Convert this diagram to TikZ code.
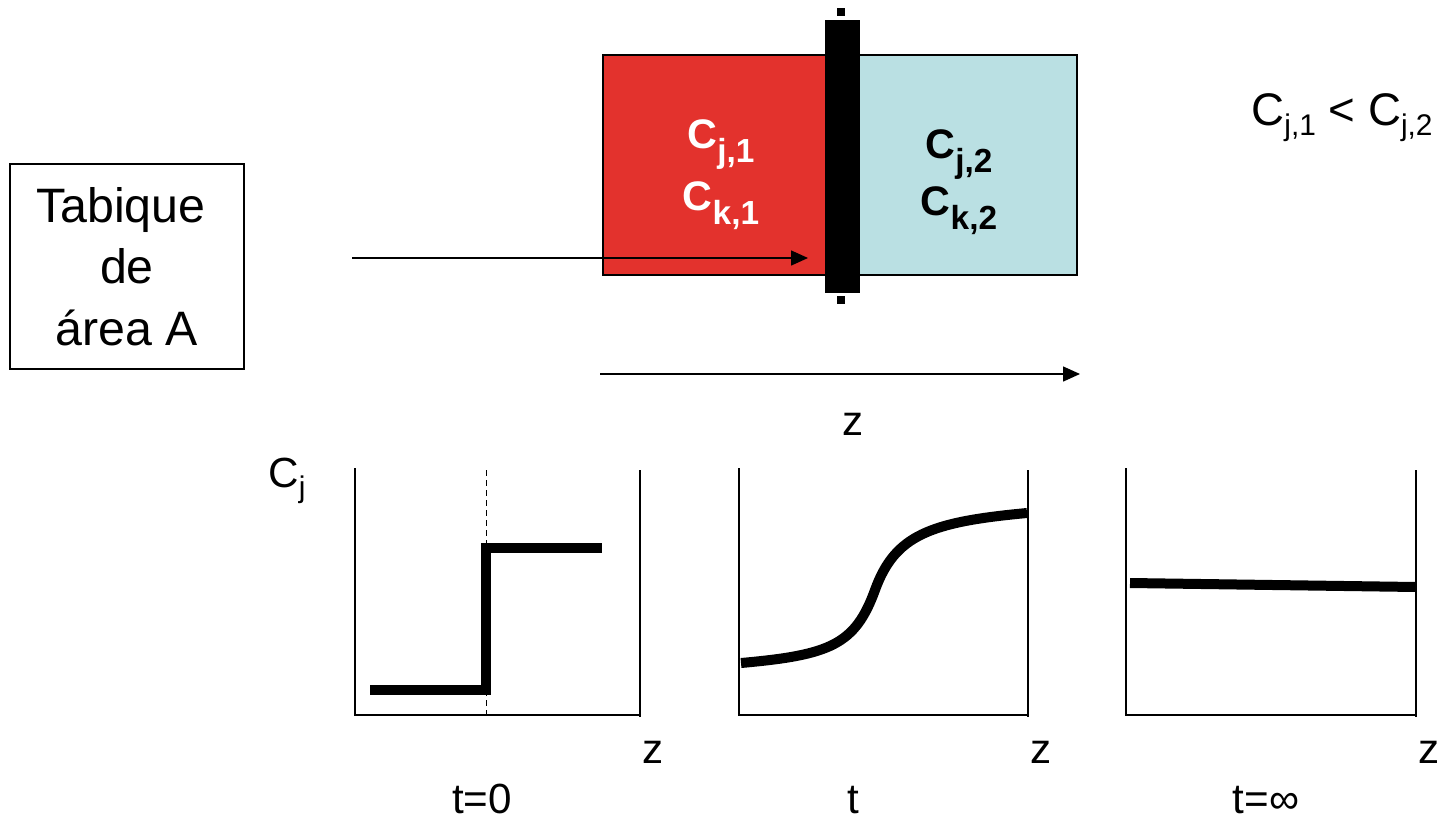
\documentclass[tikz,border=0pt]{standalone}
\usepackage{fontspec}
\setmainfont{Liberation Sans}
\usetikzlibrary{arrows.meta}
\definecolor{leftcell}{RGB}{227,50,45}
\definecolor{rightcell}{RGB}{186,224,227}
\newcommand{\subr}[1]{\raisebox{-0.24em}{\fontsize{17}{17}\selectfont #1}}
\newcommand{\subb}[1]{\raisebox{-0.36em}{\fontsize{19}{19}\selectfont\bfseries #1}}

\begin{document}
\begin{tikzpicture}[
    x=0.02cm, y=-0.02cm,
    axis/.style={line width=0.03cm, draw=black},
    profile/.style={line width=0.2cm, line cap=butt, line join=miter},
    flux/.style={-{Triangle[length=0.34cm, width=0.3cm]}, line width=0.03cm},
    lbl/.style={font=\fontsize{24}{28}\selectfont, inner sep=0pt, anchor=base},
    conc/.style={font=\fontsize{23.5}{28}\selectfont\bfseries, inner sep=0pt, anchor=base},
    areabox/.style={draw, line width=0.03cm, minimum width=234*0.02cm, minimum height=205*0.02cm,
                    align=center, font=\fontsize{27.5}{35}\selectfont, inner sep=0pt}
]
\useasboundingbox (0,0) rectangle (1450,818);

% two compartments and the membrane
\fill[leftcell]  (603,55) rectangle (842,275);
\fill[rightcell] (842,55) rectangle (1077,275);
\draw[line width=0.03cm] (603,55) rectangle (1077,275);
\fill[black] (825,20) rectangle (860,293);
\fill[black] (837,8) rectangle (845,16);
\fill[black] (837,296) rectangle (845,304);

\node[conc, text=white] (cj1) at (721,148) {C\subb{j,1}};
\node[conc, text=white] (ck1) at (721,210) {C\subb{k,1}};
\node[conc] (cj2) at (959,158) {C\subb{j,2}};
\node[conc] (ck2) at (959,215) {C\subb{k,2}};

\node[lbl, font=\fontsize{26}{30}\selectfont] (ineq) at (1342,125) {C\subr{j,1} < C\subr{j,2}};

\node[areabox] (tabique) at (127,266.5) {Tabique\hspace*{0.25em}\\de\\área A};

\coordinate (fin)  at (352,258);
\coordinate (fout) at (808,258);
\draw[flux] (fin) -- (fout);
\coordinate (zin)  at (600,374);
\coordinate (zout) at (1080,374);
\draw[flux] (zin) -- (zout);
\node[lbl] (zmid) at (853,435) {z};

% concentration profiles
\foreach \lx/\rx in {355/640, 739/1028, 1126/1416} {
    \draw[axis] (\lx,468) -- (\lx,715) -- (\rx,715);
    \draw[axis] (\rx,470) -- (\rx,717);
    \node[lbl] at (\rx+13,763) {z};
}
\node[lbl] (cj) at (287,487) {C\subr{j}};
\draw[dashed, dash pattern=on 3.4pt off 2.3pt, line width=0.02cm] (486,470) -- (486,715);

\draw[profile] (370,690) -- (486,690) -- (486,548) -- (602,548);
\draw[profile] (741,663) .. controls (830,655) and (855,645) .. (875,590)
               .. controls (895,535) and (930,522) .. (1027,513);
\draw[profile] (1130,583) -- (1416,587);

\node[lbl] (t0)   at (482,813)  {t=0};
\node[lbl] (tt)   at (853,813)  {t};
\node[lbl] (tinf) at (1266,813) {t=∞};
\end{tikzpicture}
\end{document}
